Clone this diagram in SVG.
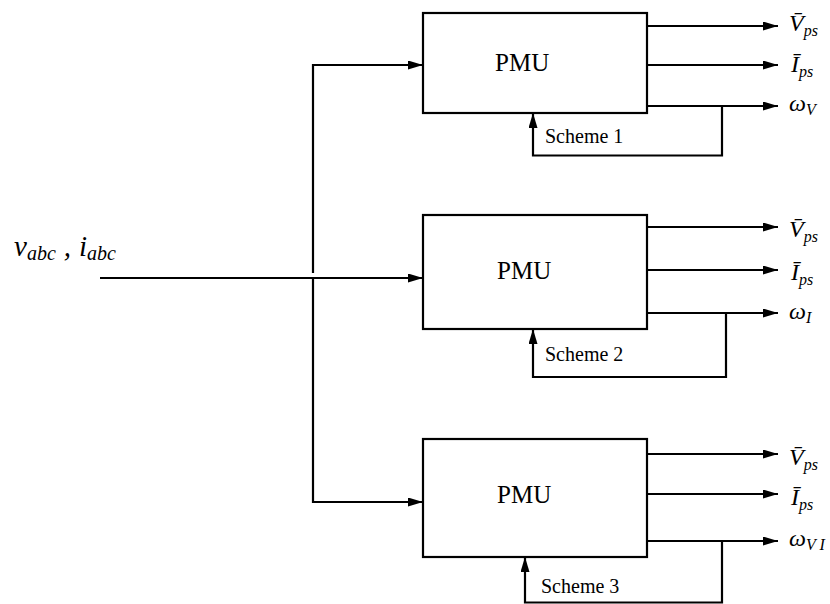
<svg xmlns="http://www.w3.org/2000/svg" width="830" height="604" viewBox="0 0 830 604">
<style>
.box{fill:#fff;stroke:#000;stroke-width:2.2}
.ln{fill:none;stroke:#000;stroke-width:2.2}
.pmu{font-family:"Liberation Serif",serif;font-size:25px}
.sch{font-family:"Liberation Serif",serif;font-size:20px}
.m{font-family:"Liberation Serif","DejaVu Serif",serif;font-style:italic;font-size:24px}
.sub{font-size:16px}
</style>
<defs>
<marker id="ah" markerWidth="15" markerHeight="9" refX="15" refY="4.5" orient="auto" markerUnits="userSpaceOnUse">
<path d="M0,0 L15,4.5 L0,9 Z" fill="#000"/>
</marker>
</defs>
<rect width="830" height="604" fill="#fff"/>
<g id="connectors">
<path class="ln" d="M100,278 H423" marker-end="url(#ah)"/>
<path class="ln" d="M313,273 V65 H423" marker-end="url(#ah)"/>
<path class="ln" d="M313,278 V502 H423" marker-end="url(#ah)"/>
<path class="ln" d="M647,26 H778" marker-end="url(#ah)"/>
<path class="ln" d="M647,65 H778" marker-end="url(#ah)"/>
<path class="ln" d="M647,106 H778" marker-end="url(#ah)"/>
<path class="ln" d="M722,106 V155.5 H533 V113" marker-end="url(#ah)"/>
<path class="ln" d="M647,227 H778" marker-end="url(#ah)"/>
<path class="ln" d="M647,270 H778" marker-end="url(#ah)"/>
<path class="ln" d="M647,313 H778" marker-end="url(#ah)"/>
<path class="ln" d="M726,313 V377 H533 V329" marker-end="url(#ah)"/>
<path class="ln" d="M647,454 H778" marker-end="url(#ah)"/>
<path class="ln" d="M647,494 H778" marker-end="url(#ah)"/>
<path class="ln" d="M647,541 H778" marker-end="url(#ah)"/>
<path class="ln" d="M722,541 V602.5 H525 V557" marker-end="url(#ah)"/>
</g>
<g id="input">
<text class="m" x="14" y="256" style="font-size:29px">v<tspan dy="4" style="font-size:20px">abc</tspan><tspan dy="-4" dx="8">,</tspan><tspan dx="8">i</tspan><tspan dy="4" style="font-size:20px">abc</tspan></text>
</g>
<g id="pmu1">
<rect class="box" x="423" y="13" width="224" height="100"/>
<text class="pmu" x="495" y="71">PMU</text>
<text class="m" x="789" y="31">V̄<tspan class="sub" dy="5">ps</tspan></text>
<text class="m" x="791" y="72">Ī<tspan class="sub" dy="5">ps</tspan></text>
<text class="m" x="789" y="111">ω<tspan class="sub" dy="4">V</tspan></text>
<text class="sch" x="545" y="143">Scheme 1</text>
</g>
<g id="pmu2">
<rect class="box" x="423" y="215" width="224" height="114"/>
<text class="pmu" x="497" y="279">PMU</text>
<text class="m" x="789" y="237">V̄<tspan class="sub" dy="5">ps</tspan></text>
<text class="m" x="791" y="280">Ī<tspan class="sub" dy="5">ps</tspan></text>
<text class="m" x="789" y="319">ω<tspan class="sub" dy="4">I</tspan></text>
<text class="sch" x="545" y="361">Scheme 2</text>
</g>
<g id="pmu3">
<rect class="box" x="423" y="439" width="224" height="118"/>
<text class="pmu" x="497" y="503">PMU</text>
<text class="m" x="789" y="465">V̄<tspan class="sub" dy="5">ps</tspan></text>
<text class="m" x="791" y="505">Ī<tspan class="sub" dy="5">ps</tspan></text>
<text class="m" x="789" y="546">ω<tspan class="sub" dy="4">V I</tspan></text>
<text class="sch" x="541" y="593">Scheme 3</text>
</g>
</svg>
